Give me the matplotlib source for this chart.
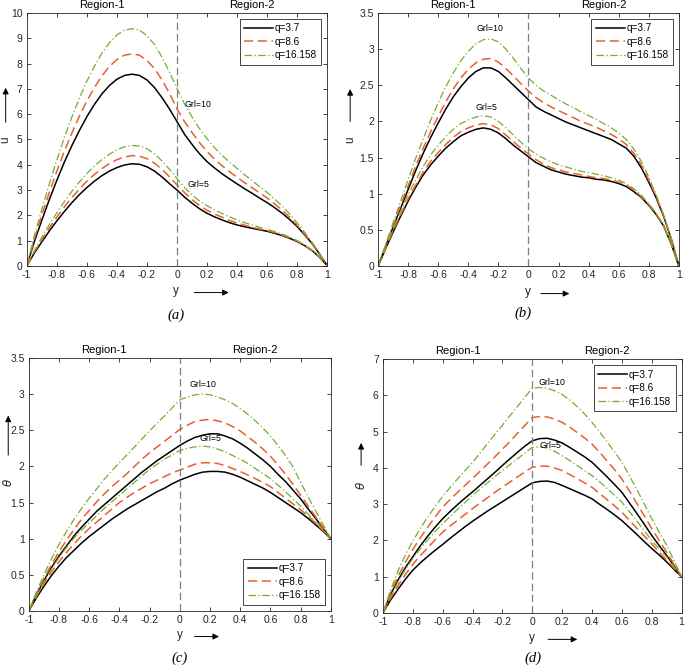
import numpy as np
import matplotlib
matplotlib.use("Agg")
import matplotlib.pyplot as plt

plt.rcParams['font.family'] = ['Liberation Sans', 'DejaVu Sans']

y_pts = [-1, -0.95, -0.9, -0.85, -0.8, -0.75, -0.7, -0.65, -0.6, -0.55, -0.5,
         -0.45, -0.4, -0.35, -0.3, -0.25, -0.2, -0.15, -0.1, -0.05, 0,
         0.05, 0.1, 0.15, 0.2, 0.25, 0.3, 0.35, 0.4, 0.45, 0.5,
         0.55, 0.6, 0.65, 0.7, 0.75, 0.8, 0.85, 0.9, 0.95, 1]
q_labels = ['q=3.7', 'q=8.6', 'q=16.158']

# (a) velocity u
a_g10_q37 = [0, 0.95, 1.8, 2.62, 3.38, 4.1, 4.75, 5.35, 5.9, 6.38, 6.8, 7.13, 7.38, 7.53, 7.58, 7.53, 7.35, 7.05, 6.65, 6.2, 5.7,
             5.2, 4.8, 4.43, 4.12, 3.87, 3.64, 3.44, 3.24, 3.05, 2.87, 2.68, 2.5, 2.3, 2.08, 1.83, 1.55, 1.22, 0.87, 0.45, 0]
a_g10_q86 = [0, 1.05, 2.0, 2.9, 3.74, 4.53, 5.25, 5.92, 6.52, 7.05, 7.51, 7.88, 8.16, 8.33, 8.38, 8.33, 8.12, 7.8, 7.35, 6.82, 6.2,
             5.7, 5.27, 4.87, 4.52, 4.22, 3.96, 3.72, 3.5, 3.29, 3.09, 2.89, 2.68, 2.45, 2.2, 1.92, 1.6, 1.25, 0.88, 0.45, 0]
a_g10_q16 = [0, 1.18, 2.23, 3.24, 4.18, 5.07, 5.88, 6.62, 7.3, 7.89, 8.41, 8.82, 9.13, 9.32, 9.38, 9.32, 9.1, 8.75, 8.25, 7.65, 7.0,
             6.4, 5.88, 5.42, 5.02, 4.67, 4.37, 4.1, 3.85, 3.6, 3.37, 3.13, 2.9, 2.64, 2.36, 2.05, 1.7, 1.32, 0.92, 0.47, 0]
a_g5_q37 = [0, 0.5, 0.95, 1.38, 1.78, 2.15, 2.5, 2.82, 3.1, 3.35, 3.57, 3.75, 3.89, 3.99, 4.04, 4.02, 3.92, 3.75, 3.52, 3.25, 3.0,
            2.72, 2.48, 2.26, 2.08, 1.94, 1.82, 1.71, 1.62, 1.55, 1.49, 1.43, 1.37, 1.29, 1.2, 1.09, 0.96, 0.8, 0.6, 0.33, 0]
a_g5_q86 = [0, 0.55, 1.03, 1.5, 1.93, 2.33, 2.7, 3.04, 3.35, 3.62, 3.85, 4.05, 4.2, 4.31, 4.36, 4.34, 4.24, 4.06, 3.82, 3.52, 3.2,
            2.9, 2.62, 2.39, 2.2, 2.05, 1.93, 1.8, 1.7, 1.61, 1.53, 1.46, 1.4, 1.32, 1.22, 1.11, 0.98, 0.81, 0.61, 0.33, 0]
a_g5_q16 = [0, 0.6, 1.13, 1.63, 2.1, 2.54, 2.95, 3.32, 3.65, 3.95, 4.2, 4.42, 4.59, 4.71, 4.76, 4.74, 4.63, 4.43, 4.15, 3.82, 3.45,
            3.1, 2.8, 2.57, 2.38, 2.21, 2.07, 1.94, 1.82, 1.71, 1.62, 1.53, 1.45, 1.36, 1.26, 1.14, 1.0, 0.83, 0.62, 0.34, 0]

# (b) velocity u
b_g10_q37 = [0, 0.27, 0.54, 0.8, 1.06, 1.32, 1.56, 1.78, 1.98, 2.17, 2.34, 2.48, 2.6, 2.69, 2.74, 2.74, 2.69, 2.6, 2.5, 2.4, 2.3,
             2.2, 2.14, 2.09, 2.04, 1.99, 1.95, 1.91, 1.87, 1.83, 1.79, 1.75, 1.69, 1.63, 1.52, 1.36, 1.16, 0.94, 0.68, 0.37, 0]
b_g10_q86 = [0, 0.28, 0.56, 0.84, 1.11, 1.38, 1.63, 1.86, 2.07, 2.27, 2.45, 2.6, 2.72, 2.81, 2.86, 2.87, 2.82, 2.73, 2.63, 2.52, 2.42,
             2.33, 2.26, 2.2, 2.15, 2.1, 2.05, 2.0, 1.96, 1.92, 1.87, 1.82, 1.76, 1.68, 1.56, 1.4, 1.19, 0.96, 0.69, 0.37, 0]
b_g10_q16 = [0, 0.3, 0.6, 0.9, 1.2, 1.49, 1.76, 2.02, 2.26, 2.48, 2.67, 2.84, 2.97, 3.07, 3.13, 3.14, 3.1, 3.0, 2.87, 2.73, 2.6,
             2.5, 2.42, 2.36, 2.3, 2.24, 2.19, 2.13, 2.08, 2.03, 1.97, 1.91, 1.84, 1.75, 1.62, 1.45, 1.23, 0.98, 0.7, 0.38, 0]
b_g5_q37 = [0, 0.24, 0.47, 0.69, 0.9, 1.09, 1.26, 1.4, 1.52, 1.63, 1.72, 1.8, 1.85, 1.89, 1.91, 1.89, 1.84, 1.76, 1.67, 1.59, 1.51,
            1.43, 1.38, 1.33, 1.3, 1.27, 1.25, 1.23, 1.22, 1.2, 1.19, 1.17, 1.14, 1.1, 1.03, 0.95, 0.84, 0.71, 0.55, 0.3, 0]
b_g5_q86 = [0, 0.25, 0.49, 0.71, 0.93, 1.12, 1.3, 1.45, 1.57, 1.68, 1.78, 1.86, 1.91, 1.95, 1.97, 1.95, 1.9, 1.81, 1.72, 1.63, 1.55,
            1.47, 1.41, 1.36, 1.33, 1.3, 1.28, 1.26, 1.24, 1.22, 1.21, 1.19, 1.16, 1.12, 1.05, 0.96, 0.85, 0.72, 0.55, 0.3, 0]
b_g5_q16 = [0, 0.26, 0.52, 0.76, 0.99, 1.19, 1.38, 1.54, 1.67, 1.79, 1.89, 1.97, 2.02, 2.06, 2.08, 2.06, 2.0, 1.91, 1.81, 1.71, 1.62,
            1.55, 1.49, 1.44, 1.4, 1.37, 1.34, 1.31, 1.29, 1.27, 1.25, 1.22, 1.19, 1.14, 1.07, 0.98, 0.86, 0.73, 0.56, 0.31, 0]

# (c) temperature theta
c_g10_q37 = [0, 0.22, 0.42, 0.6, 0.76, 0.9, 1.04, 1.16, 1.27, 1.38, 1.47, 1.56, 1.65, 1.74, 1.83, 1.92, 2.0, 2.08, 2.15, 2.22, 2.29,
             2.35, 2.4, 2.43, 2.45, 2.45, 2.42, 2.38, 2.32, 2.25, 2.17, 2.09, 2.0, 1.89, 1.79, 1.67, 1.55, 1.41, 1.28, 1.14, 1.0]
c_g10_q86 = [0, 0.23, 0.45, 0.64, 0.82, 0.98, 1.13, 1.27, 1.39, 1.51, 1.62, 1.72, 1.81, 1.9, 2.0, 2.1, 2.19, 2.27, 2.35, 2.43, 2.51,
             2.57, 2.62, 2.64, 2.65, 2.63, 2.6, 2.55, 2.49, 2.41, 2.33, 2.24, 2.14, 2.02, 1.89, 1.75, 1.6, 1.45, 1.3, 1.15, 1.0]
c_g10_q16 = [0, 0.26, 0.5, 0.72, 0.92, 1.1, 1.27, 1.42, 1.56, 1.69, 1.82, 1.94, 2.05, 2.16, 2.27, 2.38, 2.49, 2.6, 2.7, 2.81, 2.92,
             2.96, 2.99, 3.0, 2.99, 2.96, 2.92, 2.87, 2.8, 2.72, 2.63, 2.53, 2.42, 2.29, 2.15, 1.99, 1.78, 1.58, 1.38, 1.19, 1.0]
c_g5_q37 = [0, 0.18, 0.34, 0.49, 0.62, 0.74, 0.84, 0.94, 1.03, 1.11, 1.19, 1.27, 1.34, 1.41, 1.47, 1.53, 1.59, 1.65, 1.7, 1.76, 1.81,
            1.85, 1.89, 1.92, 1.93, 1.93, 1.92, 1.89, 1.85, 1.8, 1.75, 1.7, 1.64, 1.57, 1.5, 1.43, 1.36, 1.28, 1.19, 1.1, 1.0]
c_g5_q86 = [0, 0.2, 0.38, 0.54, 0.68, 0.81, 0.93, 1.04, 1.14, 1.23, 1.32, 1.41, 1.5, 1.57, 1.64, 1.7, 1.76, 1.81, 1.86, 1.91, 1.95,
            1.99, 2.03, 2.05, 2.05, 2.04, 2.01, 1.97, 1.93, 1.88, 1.83, 1.78, 1.72, 1.64, 1.56, 1.48, 1.4, 1.31, 1.21, 1.11, 1.0]
c_g5_q16 = [0, 0.21, 0.4, 0.58, 0.74, 0.88, 1.01, 1.12, 1.22, 1.32, 1.42, 1.51, 1.6, 1.69, 1.78, 1.87, 1.96, 2.03, 2.1, 2.16, 2.22,
            2.25, 2.27, 2.28, 2.27, 2.24, 2.2, 2.15, 2.1, 2.04, 1.97, 1.9, 1.83, 1.74, 1.65, 1.55, 1.45, 1.34, 1.23, 1.12, 1.0]

# (d) temperature theta
d_g10_q37 = [0, 0.5, 0.9, 1.25, 1.55, 1.85, 2.12, 2.37, 2.6, 2.8, 2.99, 3.17, 3.34, 3.52, 3.7, 3.88, 4.07, 4.25, 4.43, 4.6, 4.75,
             4.81, 4.82, 4.77, 4.69, 4.57, 4.44, 4.31, 4.16, 3.96, 3.76, 3.55, 3.33, 3.04, 2.75, 2.45, 2.14, 1.86, 1.59, 1.3, 1.0]
d_g10_q86 = [0, 0.55, 1.0, 1.4, 1.75, 2.07, 2.37, 2.65, 2.92, 3.13, 3.33, 3.52, 3.71, 3.91, 4.11, 4.31, 4.52, 4.73, 4.95, 5.17, 5.39,
             5.42, 5.41, 5.35, 5.26, 5.13, 4.98, 4.83, 4.66, 4.44, 4.2, 3.96, 3.7, 3.37, 3.03, 2.68, 2.33, 2.0, 1.68, 1.34, 1.0]
d_g10_q16 = [0, 0.62, 1.15, 1.6, 1.98, 2.33, 2.65, 2.94, 3.22, 3.46, 3.7, 3.93, 4.15, 4.41, 4.67, 4.93, 5.18, 5.44, 5.69, 5.95, 6.2,
             6.22, 6.2, 6.13, 6.03, 5.88, 5.7, 5.49, 5.26, 5.0, 4.73, 4.45, 4.16, 3.79, 3.41, 3.01, 2.6, 2.23, 1.87, 1.44, 1.0]
d_g5_q37 = [0, 0.35, 0.65, 0.93, 1.18, 1.38, 1.56, 1.73, 1.89, 2.06, 2.22, 2.38, 2.53, 2.67, 2.81, 2.94, 3.07, 3.2, 3.33, 3.46, 3.59,
            3.63, 3.64, 3.6, 3.52, 3.43, 3.34, 3.25, 3.15, 3.0, 2.86, 2.71, 2.55, 2.36, 2.17, 1.97, 1.78, 1.6, 1.41, 1.2, 1.0]
d_g5_q86 = [0, 0.4, 0.75, 1.06, 1.34, 1.58, 1.8, 2.02, 2.23, 2.4, 2.56, 2.72, 2.88, 3.03, 3.18, 3.33, 3.47, 3.61, 3.75, 3.89, 4.02,
            4.05, 4.05, 4.0, 3.93, 3.82, 3.71, 3.59, 3.47, 3.3, 3.13, 2.96, 2.78, 2.56, 2.34, 2.13, 1.91, 1.68, 1.46, 1.23, 1.0]
d_g5_q16 = [0, 0.45, 0.85, 1.2, 1.5, 1.77, 2.02, 2.25, 2.46, 2.66, 2.86, 3.05, 3.24, 3.42, 3.59, 3.76, 3.93, 4.09, 4.25, 4.41, 4.57,
            4.58, 4.55, 4.46, 4.34, 4.21, 4.07, 3.93, 3.79, 3.62, 3.44, 3.25, 3.06, 2.8, 2.54, 2.27, 2.0, 1.77, 1.55, 1.28, 1.0]

colors = ['#000000', '#E8602C', '#77AC30']
styles = ['-', (0, (6, 3)), (0, (6, 2, 1, 2))]
widths = [1.1, 1.1, 0.9]
tick_col = '#262626'

fig = plt.figure(figsize=(6.85, 6.66), dpi=100)

panels = [
    dict(rect=[0.039, 0.6006, 0.439, 0.380], g10=[a_g10_q37, a_g10_q86, a_g10_q16],
         g5=[a_g5_q37, a_g5_q86, a_g5_q16], ymax=10, yticks=np.arange(0, 11, 1),
         ylab='u', leg='upper right', t10=(0.14, 6.4), t5=(0.145, 3.22), tag='(a)', tagpos=(176, 315),
         ylx=-0.07, yly=0.498, arr_y=(0.557, 0.715), xl=(0.495, -0.099), arr_x=(0.548, 0.681)),
    dict(rect=[0.552, 0.6006, 0.439, 0.380], g10=[b_g10_q37, b_g10_q86, b_g10_q16],
         g5=[b_g5_q37, b_g5_q86, b_g5_q16], ymax=3.5, yticks=np.arange(0, 3.6, 0.5),
         ylab='u', leg='upper right', t10=(-0.255, 3.28), t5=(-0.28, 2.19), tag='(b)', tagpos=(523, 313),
         ylx=-0.093, yly=0.498, arr_y=(0.56, 0.71), xl=(0.498, -0.103), arr_x=(0.532, 0.645)),
    dict(rect=[0.042, 0.0826, 0.441, 0.380], g10=[c_g10_q37, c_g10_q86, c_g10_q16],
         g5=[c_g5_q37, c_g5_q86, c_g5_q16], ymax=3.5, yticks=np.arange(0, 3.6, 0.5),
         ylab=r'$\theta$', leg='lower right', t10=(0.155, 3.13), t5=(0.2, 2.39), tag='(c)', tagpos=(180, 658),
         ylx=-0.068, yly=0.506, arr_y=(0.605, 0.783), xl=(0.5, -0.095), arr_x=(0.54, 0.639)),
    dict(rect=[0.559, 0.0796, 0.436, 0.381], g10=[d_g10_q37, d_g10_q86, d_g10_q16],
         g5=[d_g5_q37, d_g5_q86, d_g5_q16], ymax=7, yticks=np.arange(0, 8, 1),
         ylab=r'$\theta$', leg='upper right', t10=(0.133, 6.36), t5=(0.12, 4.63), tag='(d)', tagpos=(533, 658),
         ylx=-0.073, yly=0.504, arr_y=(0.571, 0.681), xl=(0.498, -0.098), arr_x=(0.544, 0.66)),
]

for p in panels:
    ax = fig.add_axes(p['rect'])
    for i in range(3):
        ax.plot(y_pts, p['g10'][i], color=colors[i], linestyle=styles[i], lw=widths[i], label=q_labels[i])
    for i in range(3):
        ax.plot(y_pts, p['g5'][i], color=colors[i], linestyle=styles[i], lw=widths[i])
    ax.axvline(0, color='#7f7f7f', linestyle=(0, (6, 3)), lw=0.9)
    ax.set_xlim(-1, 1)
    ax.set_ylim(0, p['ymax'])
    ax.set_xticks(np.round(np.arange(-1, 1.01, 0.2), 1))
    ax.set_xticklabels(['-1', '-0.8', '-0.6', '-0.4', '-0.2', '0', '0.2', '0.4', '0.6', '0.8', '1'])
    ax.set_yticks(p['yticks'])
    ax.set_yticklabels([f'{v:g}' for v in p['yticks']])
    ax.tick_params(direction='in', top=True, right=True, length=3, width=0.6,
                   labelsize=7.5, colors=tick_col, pad=3)
    for s in ax.spines.values():
        s.set_color(tick_col)
        s.set_linewidth(0.6)

    ax.text(-0.5, 1.012, 'Region-1', transform=ax.get_xaxis_transform(), ha='center', va='bottom', fontsize=8)
    ax.text(0.5, 1.012, 'Region-2', transform=ax.get_xaxis_transform(), ha='center', va='bottom', fontsize=8)
    ax.text(*p['t10'], 'Grl=10', ha='center', va='center', fontsize=6.3)
    ax.text(*p['t5'], 'Grl=5', ha='center', va='center', fontsize=6.3)

    # axis labels with arrows
    ax.text(p['ylx'], p['yly'], p['ylab'], transform=ax.transAxes, rotation=90,
            ha='center', va='center', fontsize=8.5, color=tick_col)
    ax.annotate('', xy=(p['ylx'], p['arr_y'][1]), xytext=(p['ylx'], p['arr_y'][0]),
                xycoords='axes fraction', textcoords='axes fraction',
                arrowprops=dict(arrowstyle='-|>', color='black', lw=0.7, mutation_scale=9))
    ax.text(p['xl'][0], p['xl'][1], 'y', transform=ax.transAxes,
            ha='center', va='center', fontsize=8.5, color=tick_col)
    ax.annotate('', xy=(p['arr_x'][1], p['xl'][1] - 0.006), xytext=(p['arr_x'][0], p['xl'][1] - 0.006),
                xycoords='axes fraction', textcoords='axes fraction',
                arrowprops=dict(arrowstyle='-|>', color='black', lw=0.7, mutation_scale=9))

    leg = ax.legend(loc=p['leg'], fontsize=7.2, handlelength=2.9, handletextpad=0.15,
                    borderpad=0.45, labelspacing=0.35, fancybox=False, framealpha=1,
                    borderaxespad=0.6)
    leg.get_frame().set_edgecolor(tick_col)
    leg.get_frame().set_linewidth(0.6)

    fig.text(p['tagpos'][0] / 685, 1 - p['tagpos'][1] / 666, p['tag'], ha='center', va='center',
             fontsize=10.5, style='italic', family='Liberation Serif')

fig.savefig('out.png', dpi=100)
